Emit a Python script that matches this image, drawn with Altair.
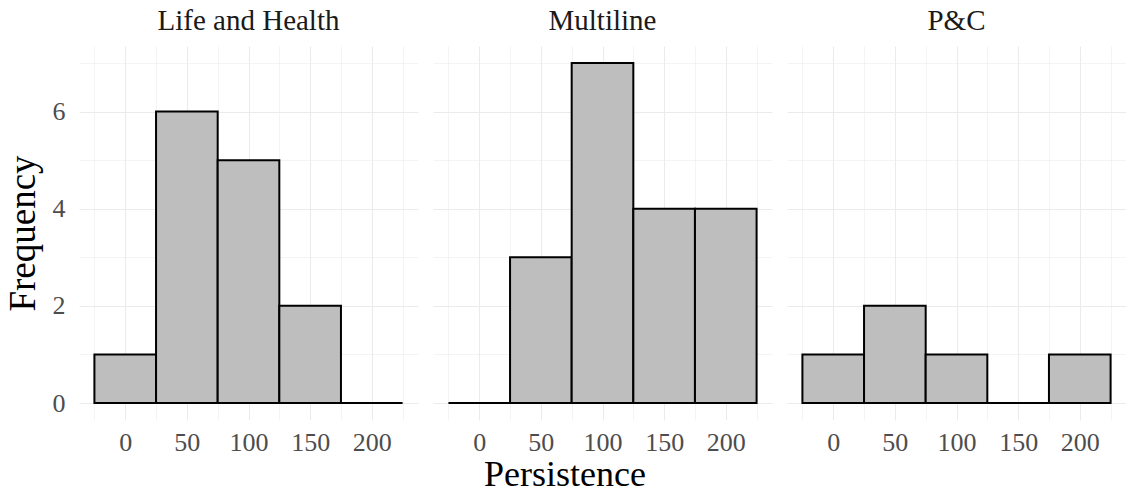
import altair as alt
import pandas as pd

groups = ["Life and Health", "Multiline", "P&C"]
bin_centers = [0, 50, 100, 150, 200]
counts_life = [1, 6, 5, 2, 0]
counts_multi = [0, 3, 7, 4, 4]
counts_pc = [1, 2, 1, 0, 1]
bin_width = 50

x_grid_values = list(range(-25, 226, 25))
y_grid_values = list(range(0, 8))

rows = []
for g, cs in zip(groups, [counts_life, counts_multi, counts_pc]):
    for c, n in zip(bin_centers, cs):
        rows.append({"group": g, "center": c, "count": n})
df = pd.DataFrame(rows)

FONT = "Liberation Serif"

bars = (
    alt.Chart(df)
    .transform_calculate(
        lo=f"datum.center - {bin_width / 2}",
        hi=f"datum.center + {bin_width / 2}",
        base="0",
    )
    .mark_rect(fill="#BEBEBE", stroke="black", strokeWidth=2)
    .encode(
        x=alt.X(
            "lo:Q",
            scale=alt.Scale(domain=[-37.5, 237.5], nice=False, zero=False),
            axis=alt.Axis(
                values=x_grid_values,
                labelExpr="datum.value % 50 === 0 ? datum.label : ''",
                title=None,
                labelPadding=9,
                gridWidth={"condition": {"test": "datum.value % 50 === 0", "value": 1.1}, "value": 0.55},
            ),
        ),
        x2="hi:Q",
        y=alt.Y(
            "count:Q",
            scale=alt.Scale(domain=[-0.35, 7.35], nice=False, zero=False),
            axis=alt.Axis(
                values=y_grid_values,
                labelExpr="datum.value % 2 === 0 ? datum.label : ''",
                title="Frequency",
                labelPadding=14,
                titlePadding=10,
                gridWidth={"condition": {"test": "datum.value % 2 === 0", "value": 1.1}, "value": 0.55},
            ),
        ),
        y2="base:Q",
    )
    .properties(width=339, height=374)
)

chart = (
    bars.facet(
        column=alt.Column(
            "group:N",
            sort=groups,
            title=None,
            header=alt.Header(
                labelFont=FONT,
                labelFontSize=29,
                labelColor="#1A1A1A",
                labelPadding=10,
            ),
        ),
        spacing=15,
    )
    .properties(
        title=alt.TitleParams(
            "Persistence",
            orient="bottom",
            anchor="middle",
            font=FONT,
            fontSize=36,
            fontWeight="normal",
            color="black",
            offset=3,
        ),
        padding={"left": 4, "top": 7, "right": 0, "bottom": 0},
    )
    .configure_view(stroke=None)
    .configure_axis(
        domain=False,
        ticks=False,
        labelFont=FONT,
        labelFontSize=26,
        labelColor="#4D4D4D",
        titleFont=FONT,
        titleFontSize=37,
        titleColor="black",
        titleFontWeight="normal",
        gridColor="#EBEBEB",
    )
)

chart.save("out.html", embed_options={"renderer": "svg", "actions": False})
